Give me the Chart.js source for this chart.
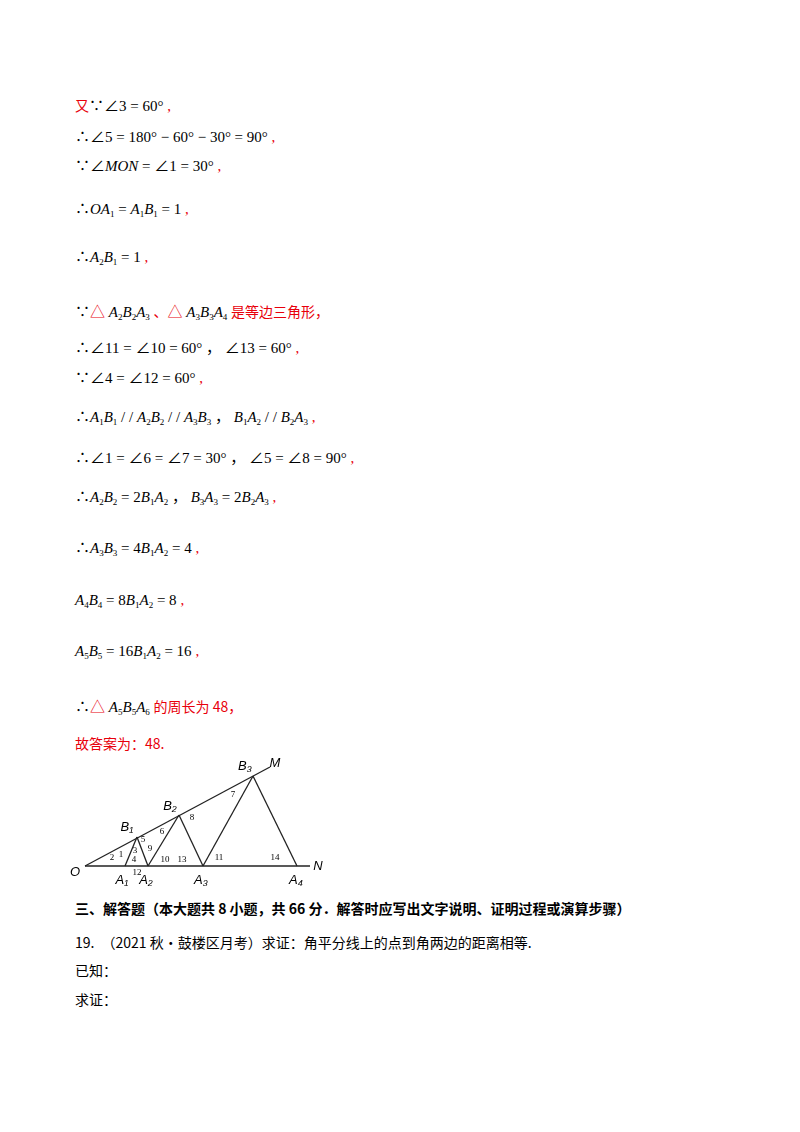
<!DOCTYPE html>
<html><head><meta charset="utf-8">
<script src="https://cdn.jsdelivr.net/npm/chart.js@4/dist/chart.umd.min.js"></script>
<style>
body{margin:0;width:800px;height:1132px;background:#fff;font-family:"Liberation Serif","Noto Sans CJK SC",serif;color:#000;position:relative}
.l{position:absolute;left:75px;font-size:15px;white-space:nowrap;line-height:20px}
.r{color:#e8000b}
i{font-style:italic}
sub{font-size:9px;vertical-align:-3px}
.cn{font-family:"Noto Sans CJK SC";font-size:14px}
.h{font-weight:bold}
#fig{position:absolute;left:70px;top:750px;width:270px;height:140px}
</style></head><body>
<div class="l" style="top:95px"><span class="r cn">又</span>∵∠3 = 60° <span class="r">,</span></div>
<div class="l" style="top:127px">∴∠5 = 180° − 60° − 30° = 90° <span class="r">,</span></div>
<div class="l" style="top:156px">∵∠<i>MON</i> = ∠1 = 30° <span class="r">,</span></div>
<div class="l" style="top:199px">∴<i>OA</i><sub>1</sub> = <i>A</i><sub>1</sub><i>B</i><sub>1</sub> = 1 <span class="r">,</span></div>
<div class="l" style="top:247px">∴<i>A</i><sub>2</sub><i>B</i><sub>1</sub> = 1 <span class="r">,</span></div>
<div class="l" style="top:301px">∵<span class="r">△</span> <i>A</i><sub>2</sub><i>B</i><sub>2</sub><i>A</i><sub>3</sub> <span class="r cn">、</span><span class="r">△</span> <i>A</i><sub>3</sub><i>B</i><sub>3</sub><i>A</i><sub>4</sub> <span class="r cn">是等边三角形，</span></div>
<div class="l" style="top:338px">∴∠11 = ∠10 = 60° ，&nbsp;∠13 = 60° <span class="r">,</span></div>
<div class="l" style="top:368px">∵∠4 = ∠12 = 60° <span class="r">,</span></div>
<div class="l" style="top:407px">∴<i>A</i><sub>1</sub><i>B</i><sub>1</sub> / / <i>A</i><sub>2</sub><i>B</i><sub>2</sub> / / <i>A</i><sub>3</sub><i>B</i><sub>3</sub> ，&nbsp;<i>B</i><sub>1</sub><i>A</i><sub>2</sub> / / <i>B</i><sub>2</sub><i>A</i><sub>3</sub> <span class="r">,</span></div>
<div class="l" style="top:448px">∴∠1 = ∠6 = ∠7 = 30° ，&nbsp;∠5 = ∠8 = 90° <span class="r">,</span></div>
<div class="l" style="top:487px">∴<i>A</i><sub>2</sub><i>B</i><sub>2</sub> = 2<i>B</i><sub>1</sub><i>A</i><sub>2</sub> ，&nbsp;<i>B</i><sub>3</sub><i>A</i><sub>3</sub> = 2<i>B</i><sub>2</sub><i>A</i><sub>3</sub> <span class="r">,</span></div>
<div class="l" style="top:538px">∴<i>A</i><sub>3</sub><i>B</i><sub>3</sub> = 4<i>B</i><sub>1</sub><i>A</i><sub>2</sub> = 4 <span class="r">,</span></div>
<div class="l" style="top:590px"><i>A</i><sub>4</sub><i>B</i><sub>4</sub> = 8<i>B</i><sub>1</sub><i>A</i><sub>2</sub> = 8 <span class="r">,</span></div>
<div class="l" style="top:641px"><i>A</i><sub>5</sub><i>B</i><sub>5</sub> = 16<i>B</i><sub>1</sub><i>A</i><sub>2</sub> = 16 <span class="r">,</span></div>
<div class="l" style="top:696px">∴<span class="r">△</span> <i>A</i><sub>5</sub><i>B</i><sub>5</sub><i>A</i><sub>6</sub> <span class="r cn">的周长为 48，</span></div>
<div class="l r cn" style="top:733px">故答案为：48.</div>
<div id="fig"><canvas id="c"></canvas></div>
<div class="l cn h" style="top:898px">三、解答题（本大题共 8 小题，共 66 分．解答时应写出文字说明、证明过程或演算步骤）</div>
<div class="l cn" style="top:932px">19.　（2021 秋•鼓楼区月考）求证：角平分线上的点到角两边的距离相等.</div>
<div class="l cn" style="top:960px">已知：</div>
<div class="l cn" style="top:989px">求证：</div>
<script>
// figure points in page-pixel units (x right, y down)
const pointNames = ["O", "A1", "A2", "A3", "A4", "N", "B1", "B2", "B3", "M"];
const pointX = [85, 125, 148, 203, 297, 310, 137, 179, 253, 270];
const pointY = [866, 866, 866, 866, 866, 866, 837, 815, 776, 767];
const segments = [["O","N"],["O","M"],["A1","B1"],["B1","A2"],["A2","B2"],["B2","A3"],["A3","B3"],["B3","A4"]];
const labels = [
  ["O", 75, 872, true], ["A₁", 122, 880, true], ["A₂", 146, 880, true], ["A₃", 201, 880, true], ["A₄", 296, 880, true],
  ["N", 318, 866, true], ["B₁", 127, 827, true], ["B₂", 170, 806, true], ["B₃", 245, 766, true], ["M", 275, 763, true],
  ["1", 121, 855], ["2", 112, 858], ["3", 135, 851], ["4", 134, 860], ["5", 143, 840], ["6", 162, 832], ["7", 233, 795],
  ["8", 192, 818], ["9", 150, 849], ["10", 165, 860], ["11", 219, 858], ["12", 137, 873], ["13", 182, 860], ["14", 275, 858]
];
const pt = n => { const i = pointNames.indexOf(n); return {x: pointX[i], y: pointY[i]}; };

const labelPlugin = {
  id: "labels",
  afterDraw(chart) {
    const {ctx, scales: {x, y}} = chart;
    ctx.save();
    ctx.fillStyle = "#000";
    ctx.textAlign = "center";
    ctx.textBaseline = "middle";
    labels.forEach(([t, lx, ly, big]) => {
      ctx.font = big ? "italic 13px 'Liberation Sans'" : "9px 'Liberation Serif'";
      ctx.fillText(t, x.getPixelForValue(lx), y.getPixelForValue(ly));
    });
    ctx.restore();
  }
};

new Chart(document.getElementById("c"), {
  type: "scatter",
  data: {
    datasets: segments.map(([a, b]) => ({
      data: [pt(a), pt(b)], showLine: true, borderColor: "#222", borderWidth: 1.3, pointRadius: 0
    }))
  },
  options: {
    responsive: true, maintainAspectRatio: false, animation: false,
    layout: {padding: 0},
    plugins: {legend: {display: false}, tooltip: {enabled: false}},
    scales: {
      x: {type: "linear", min: 70, max: 340, display: false},
      y: {type: "linear", min: 750, max: 890, reverse: true, display: false}
    }
  },
  plugins: [labelPlugin]
});
</script>
</body></html>
